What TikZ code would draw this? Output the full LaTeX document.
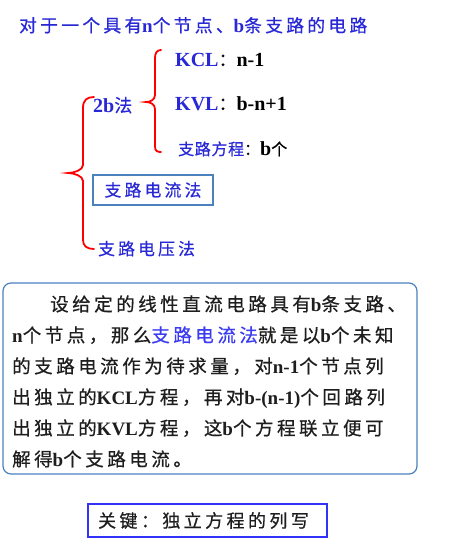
\documentclass[tikz,border=0pt]{standalone}
\usepackage{fontspec}
\setmainfont{Noto Sans CJK SC}[LetterSpace=19, FakeBold=0.6]
\newfontfamily\tight{Noto Sans CJK SC}[LetterSpace=4, FakeBold=0.6]
\newfontfamily\tnr{Liberation Serif}
\newcommand\B[1]{{\tnr\bfseries\fontsize{19}{19}\selectfont #1}}
\newcommand\BL[1]{{\tnr\bfseries\fontsize{20}{20}\selectfont #1}}
\newcommand\fs[1]{\fontsize{#1}{#1}\selectfont}
\definecolor{tblue}{RGB}{40,40,215}
\definecolor{hblue}{RGB}{60,60,240}
\definecolor{sblue}{RGB}{75,130,190}
\definecolor{kblue}{RGB}{50,50,250}
\definecolor{btxt}{RGB}{30,30,30}
\begin{document}
\begin{tikzpicture}[x=1pt,y=-1pt,
  txt/.style={inner sep=0pt, anchor=base west},
  brace/.style={red, line width=1.8pt, line cap=round},
  frame/.style={draw=sblue, line width=1.2pt}]
\useasboundingbox (0,0) rectangle (460,550);
\fill[white] (0,0) rectangle (460,550);

\node[txt, text=tblue, font=\fs{17.7}] (title) at (19,32) {对于一个具有\B{n}个节点、\B{b}条支路的电路};

% small brace
\draw[brace] (161,50) .. controls (157,50) and (155,53) .. (155,58) -- (155,95)
  .. controls (155,100) and (150,102) .. (146,102)
  .. controls (150,102) and (155,104) .. (155,109) -- (155,146)
  .. controls (155,151) and (157,152) .. (161,152);
\node[txt, text=black, font=\fs{18}] (kcl) at (175,66) {\BL{\textcolor{tblue}{KCL}}：\BL{n-1}};
\node[txt, text=black, font=\fs{18}] (kvl) at (175,110) {\BL{\textcolor{tblue}{KVL}}：\BL{b-n+1}};
\node[txt, text=black, font=\tight\fs{16}] (fc) at (178,155) {\textcolor{tblue}{支路方程}：\BL{b}个};
\node[txt, text=tblue, font=\fs{18}] (twob) at (93,112) {\BL{2b}法};

% big brace
\draw[brace] (94,97) .. controls (87,97) and (83,100) .. (83,108) -- (83,165)
  .. controls (83,170) and (74,173) .. (68,173)
  .. controls (74,173) and (83,176) .. (83,181) -- (83,240)
  .. controls (83,246) and (87,249) .. (94,249);
\node[frame, minimum width=120pt, minimum height=30pt, inner sep=0pt,
  text=tblue, font=\fs{16.8}] (zldl) at (153,190) {支路电流法};
\node[txt, text=tblue, font=\fs{16.8}] (zldy) at (98,255) {支路电压法};

% paragraph box
\node[frame, rounded corners=8pt, minimum width=414pt, minimum height=191pt, inner sep=0pt] (para) at (210,378.5) {};
\begin{scope}[every node/.append style={text=btxt, font=\fs{18.5}}]
\node[txt] (l1) at (50,311) {设给定的线性直流电路具有\B{b}条支路、};
\node[txt] (l2) at (12,342) {\B{n}个节点，那么\textcolor{hblue}{支路电流法}就是以\B{b}个未知};
\node[txt] (l3) at (12,373) {的支路电流作为待求量，对\B{n-1}个节点列};
\node[txt] (l4) at (12,404) {出独立的\B{KCL}方程，再对\B{b-(n-1)}个回路列};
\node[txt] (l5) at (12,435) {出独立的\B{KVL}方程，这\B{b}个方程联立便可};
\node[txt] (l6) at (12,466) {解得\B{b}个支路电流。};
\end{scope}

% key box
\node[draw=kblue, line width=1.5pt, minimum width=239pt, minimum height=33pt, inner sep=0pt,
  text=btxt, font=\fs{18}] (key) at (207.5,520.5) {\kern-8pt 关键：独立方程的列写};
\end{tikzpicture}
\end{document}
